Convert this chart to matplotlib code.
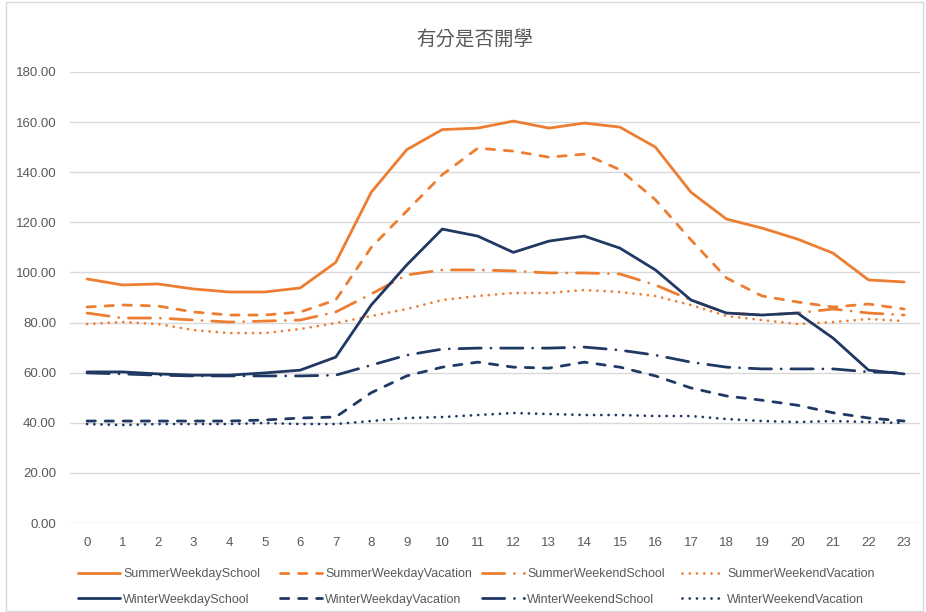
import matplotlib.pyplot as plt
from matplotlib.patches import Rectangle

hours = list(range(24))

summer_weekday_school = [97.4, 95.0, 95.4, 93.4, 92.2, 92.2, 93.8, 104.0, 132.0, 149.0, 157.0, 157.6,
                         160.4, 157.6, 159.6, 158.0, 150.0, 132.0, 121.3, 117.7, 113.3, 107.7, 97.0, 96.2]
summer_weekday_vacation = [86.2, 87.0, 86.6, 84.2, 83.0, 83.0, 84.2, 89.0, 110.0, 124.5, 139.0, 149.6,
                           148.4, 146.0, 147.2, 141.0, 129.0, 113.0, 97.8, 90.6, 88.2, 86.2, 87.4, 85.4]
summer_weekend_school = [83.8, 81.8, 81.8, 81.0, 80.2, 80.6, 81.0, 84.2, 91.4, 99.0, 101.0, 101.0,
                         100.6, 99.8, 99.8, 99.4, 95.0, 89.0, 83.8, 83.0, 83.8, 85.4, 83.8, 83.0]
summer_weekend_vacation = [79.4, 80.2, 79.4, 77.0, 75.8, 75.8, 77.4, 79.8, 82.6, 85.4, 89.0, 90.6,
                           91.8, 91.8, 93.0, 92.2, 90.6, 87.0, 82.6, 81.0, 79.4, 80.2, 81.4, 80.6]
winter_weekday_school = [60.3, 60.3, 59.5, 59.0, 59.0, 59.9, 61.0, 66.2, 87.0, 103.0, 117.3, 114.5,
                         108.0, 112.5, 114.5, 109.7, 101.0, 89.0, 83.8, 83.0, 83.8, 73.8, 61.0, 59.5]
winter_weekday_vacation = [40.7, 40.7, 40.7, 40.7, 40.7, 41.1, 41.9, 42.3, 52.0, 58.7, 62.2, 64.2,
                           62.2, 61.8, 64.2, 62.2, 58.7, 53.9, 50.7, 49.0, 47.0, 44.0, 41.9, 40.7]
winter_weekend_school = [59.9, 59.5, 59.0, 58.7, 58.7, 58.7, 58.7, 59.0, 63.0, 67.0, 69.4, 69.8,
                         69.8, 69.8, 70.2, 69.0, 67.0, 64.2, 62.2, 61.5, 61.5, 61.5, 60.3, 59.9]
winter_weekend_vacation = [39.5, 39.1, 39.5, 39.5, 39.5, 39.9, 39.5, 39.5, 40.7, 41.9, 42.3, 43.1,
                           43.9, 43.5, 43.1, 43.1, 42.7, 42.7, 41.5, 40.7, 40.3, 40.7, 40.3, 39.9]

orange = '#ED7D31'
navy = '#203864'
dash = (0, (3, 3.5))
dot = (0, (0.01, 2.6))
dashdot = (0, (8, 3.5, 0.01, 3.5))

series = [
    ('SummerWeekdaySchool', summer_weekday_school, orange, '-'),
    ('SummerWeekdayVacation', summer_weekday_vacation, orange, dash),
    ('SummerWeekendSchool', summer_weekend_school, orange, dashdot),
    ('SummerWeekendVacation', summer_weekend_vacation, orange, dot),
    ('WinterWeekdaySchool', winter_weekday_school, navy, '-'),
    ('WinterWeekdayVacation', winter_weekday_vacation, navy, dash),
    ('WinterWeekendSchool', winter_weekend_school, navy, dashdot),
    ('WinterWeekendVacation', winter_weekend_vacation, navy, dot),
]

plt.rcParams['font.family'] = ['Liberation Sans', 'DejaVu Sans']

fig = plt.figure(figsize=(9.26, 6.12), dpi=100)
ax = fig.add_axes([0.0756, 0.1454, 0.918, 0.737])

handles = {}
for name, vals, color, ls in series:
    line, = ax.plot(hours, vals, color=color, lw=2.0, linestyle=ls,
                    dash_capstyle='round', solid_capstyle='round', label=name)
    handles[name] = line

ax.set_xlim(-0.48, 23.45)
ax.set_ylim(0, 180)
ax.set_yticks(range(0, 181, 20))
ax.set_yticklabels(['{0:.2f}'.format(v) for v in range(0, 181, 20)])
ax.set_xticks(hours)
ax.yaxis.grid(True, color='#D9D9D9', lw=1)
ax.set_axisbelow(True)
for s in ax.spines.values():
    s.set_visible(False)
ax.tick_params(axis='both', length=0, labelsize=9.5, labelcolor='#595959')
ax.tick_params(axis='y', pad=10)
ax.tick_params(axis='x', pad=10)

fig.text(0.513, 0.935, '有分是否開學', ha='center', va='center', fontsize=14,
         color='#595959', family=['Noto Sans CJK TC', 'DejaVu Sans'])

# one legend per column so the columns are evenly spaced like the original
columns = [('SummerWeekdaySchool', 'WinterWeekdaySchool'),
           ('SummerWeekdayVacation', 'WinterWeekdayVacation'),
           ('SummerWeekendSchool', 'WinterWeekendSchool'),
           ('SummerWeekendVacation', 'WinterWeekendVacation')]
col_x = [72, 274, 476, 676]
for names, x in zip(columns, col_x):
    fig.legend([handles[n] for n in names], names, loc='lower left',
               bbox_to_anchor=(x / 926.0, 0.0), frameon=False, fontsize=9, labelcolor='#595959',
               handlelength=3.3, handletextpad=0.3, labelspacing=1.1, borderpad=0.5, borderaxespad=0.0)

fig.patches.append(Rectangle((0.007, 0.002), 0.99, 0.995, transform=fig.transFigure,
                             fill=False, edgecolor='#D9D9D9', lw=1))

fig.savefig('out.png', dpi=100)
